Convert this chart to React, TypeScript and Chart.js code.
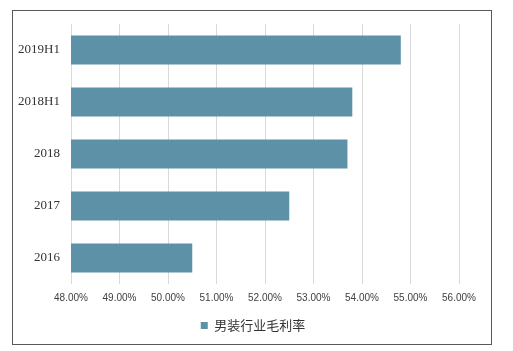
import React, { useEffect, useRef } from "react";
import { Chart, registerables } from "chart.js";

Chart.register(...registerables);

const categories = ["2019H1", "2018H1", "2018", "2017", "2016"];
const seriesName = "男装行业毛利率";
const values = [54.8, 53.8, 53.7, 52.5, 50.5];
const xMin = 48;
const xMax = 56;

export default function App() {
  const ref = useRef<HTMLCanvasElement | null>(null);

  useEffect(() => {
    if (!ref.current) return;
    const chart = new Chart(ref.current, {
      type: "bar",
      data: {
        labels: categories,
        datasets: [
          {
            label: seriesName,
            data: values,
            backgroundColor: "#5d91a8",
            borderWidth: 0,
            categoryPercentage: 1,
            barPercentage: 0.56,
            yAxisID: "y",
          },
        ],
      },
      options: {
        indexAxis: "y",
        animation: false,
        responsive: false,
        maintainAspectRatio: false,
        layout: { padding: { top: 24, left: 0, right: 7, bottom: 9 } },
        plugins: {
          tooltip: { enabled: false },
          legend: {
            position: "bottom",
            labels: {
              boxWidth: 7,
              boxHeight: 7,
              padding: 10,
              color: "#333333",
              font: { family: "'Noto Sans CJK SC', sans-serif", size: 13 },
            },
          },
        },
        scales: {
          x: {
            type: "linear",
            min: xMin,
            max: xMax,
            ticks: {
              stepSize: 1,
              padding: 8,
              color: "#404040",
              font: { family: "'Liberation Sans', sans-serif", size: 10 },
              callback: (v: any) => Number(v).toFixed(2) + "%",
            },
            grid: { color: "#d9d9d9", drawTicks: false, lineWidth: 1 },
            border: { display: false },
            afterFit: (s: any) => {
              s.height = 25;
            },
          },
          y: {
            position: "left",
            ticks: {
              padding: 11,
              color: "#333333",
              font: { family: "'Liberation Serif', serif", size: 13 },
            },
            grid: { display: false, drawTicks: false },
            border: { display: false },
            afterFit: (s: any) => {
              s.width = 71;
            },
          },
          y2: {
            position: "right",
            type: "category",
            labels: categories,
            ticks: { display: false },
            grid: { display: false, drawTicks: false },
            border: { display: false },
            afterFit: (s: any) => {
              s.width = 47;
            },
          },
        },
      },
    });
    return () => chart.destroy();
  }, []);

  return (
    <div style={{ position: "fixed", left: 0, top: 0, width: 513, height: 351, background: "#ffffff" }}>
      <div
        style={{
          position: "absolute",
          left: 12,
          top: 10,
          width: 478,
          height: 333,
          border: "1px solid #595959",
        }}
      />
      <canvas ref={ref} width={513} height={351} style={{ position: "absolute", left: 0, top: 0 }} />
    </div>
  );
}
